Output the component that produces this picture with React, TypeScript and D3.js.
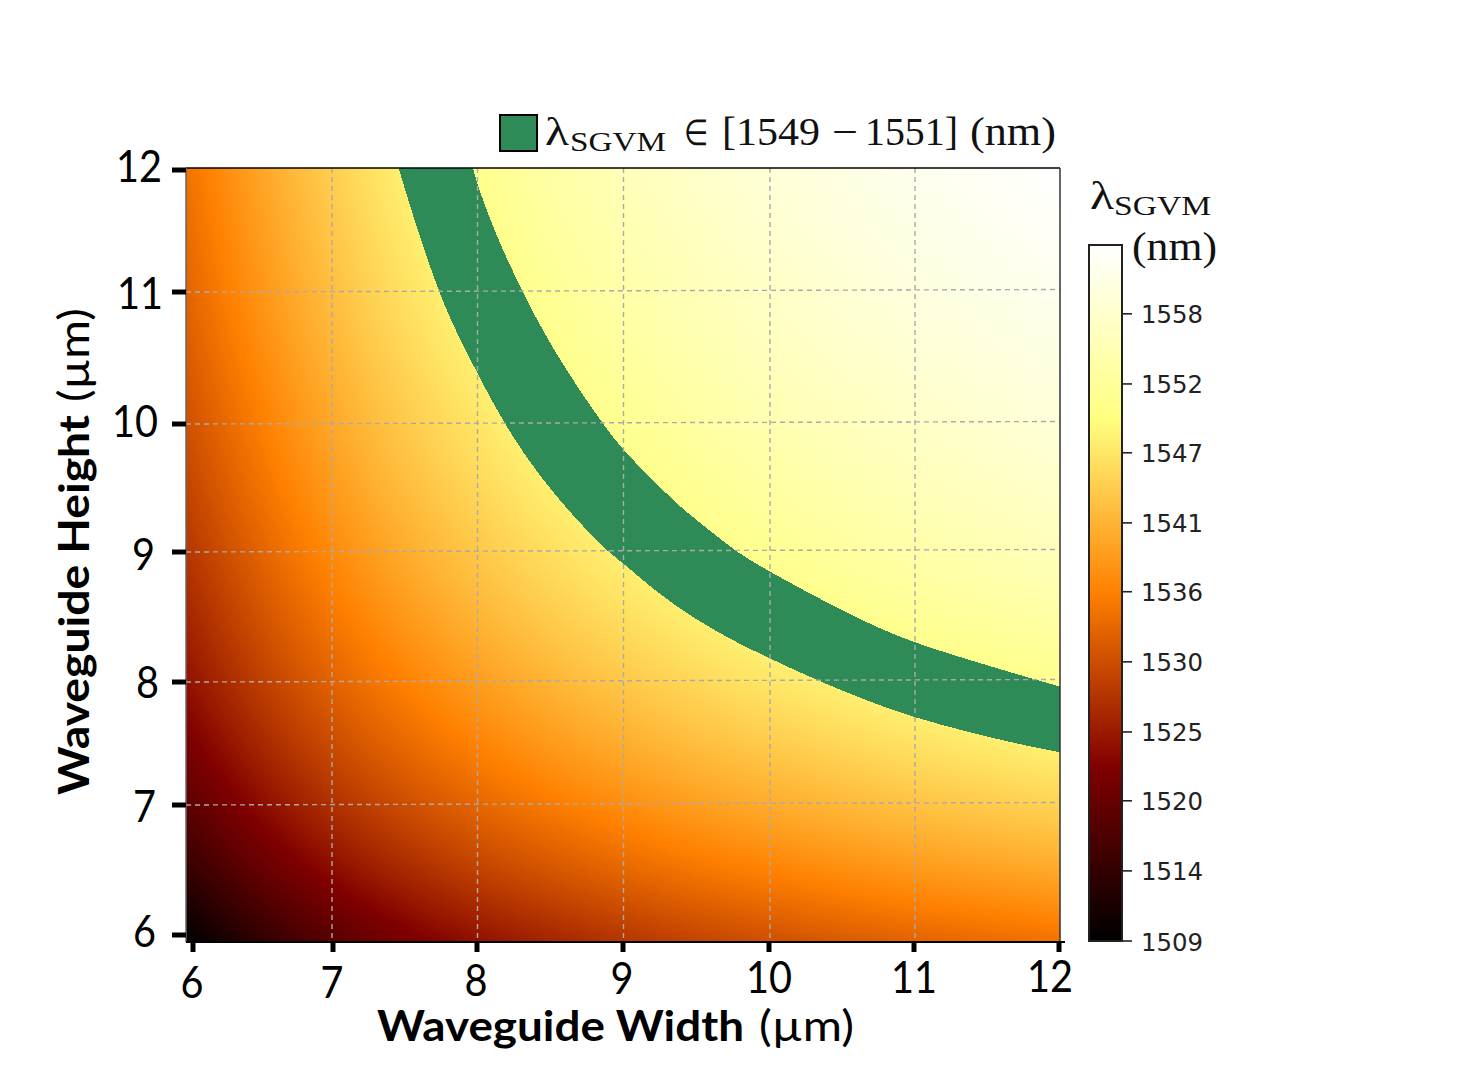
import React, { useMemo } from 'react';
import * as d3 from 'd3';

// Waveguide dimensions (um) the wavelength table is sampled on
const GRID_SIZES = [6, 6.5, 7, 7.5, 8, 8.5, 9, 9.5, 10, 10.5, 11, 11.5, 12];

// lambda_SGVM (nm) estimated from the colours, one row per height, one column per width
const WAVELENGTHS = [
  [1509.0, 1514.3, 1518.5, 1521.9, 1524.5, 1526.6, 1528.4, 1529.9, 1531.2, 1532.3, 1533.3, 1534.1, 1534.9],
  [1514.3, 1519.6, 1523.7, 1526.8, 1529.4, 1531.5, 1533.3, 1534.9, 1536.1, 1537.4, 1538.6, 1539.5, 1540.4],
  [1518.5, 1523.7, 1527.6, 1530.7, 1533.3, 1535.4, 1537.4, 1539.2, 1540.7, 1542.0, 1543.1, 1544.1, 1544.9],
  [1521.9, 1526.8, 1530.7, 1533.8, 1536.5, 1539.0, 1541.1, 1542.9, 1544.3, 1545.6, 1546.8, 1547.7, 1548.6],
  [1524.5, 1529.4, 1533.3, 1536.5, 1539.5, 1542.0, 1544.1, 1545.8, 1547.3, 1548.6, 1549.7, 1550.7, 1551.6],
  [1526.6, 1531.5, 1535.4, 1539.0, 1542.0, 1544.5, 1546.5, 1548.3, 1549.8, 1551.1, 1552.2, 1553.2, 1554.0],
  [1528.4, 1533.3, 1537.4, 1541.1, 1544.1, 1546.5, 1548.6, 1550.4, 1551.9, 1553.2, 1554.3, 1555.3, 1556.1],
  [1529.9, 1534.9, 1539.2, 1542.9, 1545.8, 1548.3, 1550.4, 1552.1, 1553.6, 1554.9, 1556.0, 1557.0, 1557.9],
  [1531.2, 1536.1, 1540.7, 1544.3, 1547.3, 1549.8, 1551.9, 1553.6, 1555.1, 1556.4, 1557.5, 1558.5, 1559.4],
  [1532.3, 1537.4, 1542.0, 1545.6, 1548.6, 1551.1, 1553.2, 1554.9, 1556.4, 1557.7, 1558.9, 1559.8, 1560.7],
  [1533.3, 1538.6, 1543.1, 1546.8, 1549.7, 1552.2, 1554.3, 1556.0, 1557.5, 1558.9, 1560.0, 1561.0, 1561.8],
  [1534.1, 1539.5, 1544.1, 1547.7, 1550.7, 1553.2, 1555.3, 1557.0, 1558.5, 1559.8, 1561.0, 1561.9, 1562.8],
  [1534.9, 1540.4, 1544.9, 1548.6, 1551.6, 1554.0, 1556.1, 1557.9, 1559.4, 1560.7, 1561.8, 1562.8, 1563.6],
];

// Edges of the 1549-1551 nm band, [width, height] in um
const BAND_UPPER: [number, number][] = [
  [7.97, 12], [8.0, 11.87], [8.13, 11.47], [8.31, 11.04], [8.48, 10.67], [8.7, 10.28], [8.86, 10.02],
  [9.0, 9.81], [9.19, 9.6], [9.39, 9.37], [9.62, 9.17], [9.78, 9.02], [10.01, 8.87], [10.17, 8.77],
  [10.47, 8.59], [10.74, 8.44], [11.0, 8.32], [11.31, 8.21], [11.66, 8.09], [12, 7.98],
];
const BAND_LOWER: [number, number][] = [
  [7.46, 12], [7.56, 11.62], [7.73, 11.05], [7.85, 10.74], [8.0, 10.41], [8.18, 10.02], [8.43, 9.6],
  [8.7, 9.25], [8.9, 9.02], [9.0, 8.94], [9.21, 8.73], [9.48, 8.51], [9.78, 8.32], [10.08, 8.16],
  [10.35, 8.02], [10.72, 7.85], [11.0, 7.74], [11.36, 7.63], [11.73, 7.53], [12, 7.47],
];

const AXIS_TICKS = [6, 7, 8, 9, 10, 11, 12];
const CBAR_TICKS = [1509, 1514.5, 1520, 1525.4, 1530.9, 1536.4, 1541.8, 1547.3, 1552.7, 1558.2];
const CBAR_LABELS = ['1509', '1514', '1520', '1525', '1530', '1536', '1541', '1547', '1552', '1558'];

const AFMHOT = ['#000000', '#800000', '#ff8000', '#ffff80', '#ffffff'];
const LAMBDA_MIN = 1509;
const LAMBDA_MAX = 1563.6;
const BAND_COLOR = '#2e8b57';

const PLOT = { left: 186, right: 1060, top: 168, bottom: 942 };
const CBAR = { left: 1089, right: 1122, top: 245, bottom: 941 };

const SANS = 'Lato, Carlito, sans-serif';
const SERIF = '"Liberation Serif", serif';

const colorOf = d3
  .scaleLinear<string>()
  .domain(d3.range(5).map(i => LAMBDA_MIN + (i * (LAMBDA_MAX - LAMBDA_MIN)) / 4))
  .range(AFMHOT)
  .clamp(true);

// Paint the wavelength table to an offscreen canvas, returned as a data url
function renderHeatmap(width: number, height: number) {
  const canvas = document.createElement('canvas');
  canvas.width = width;
  canvas.height = height;
  const ctx = canvas.getContext('2d')!;
  const img = ctx.createImageData(width, height);
  const rowSplines = WAVELENGTHS.map(row => d3.interpolateBasis(row));
  for (let px = 0; px < width; px++) {
    const column = d3.interpolateBasis(rowSplines.map(f => f(px / (width - 1))));
    for (let py = 0; py < height; py++) {
      const c = d3.rgb(colorOf(column(1 - py / (height - 1))));
      const i = (py * width + px) * 4;
      img.data[i] = c.r;
      img.data[i + 1] = c.g;
      img.data[i + 2] = c.b;
      img.data[i + 3] = 255;
    }
  }
  ctx.putImageData(img, 0, 0);
  return canvas.toDataURL();
}

const App: React.FC = () => {
  const x = d3.scaleLinear().domain([6, 12]).range([PLOT.left, PLOT.right]);
  const y = d3.scaleLinear().domain([6, 12]).range([PLOT.bottom, PLOT.top]);

  // The axes were placed by hand in the figure, so ticks do not sit exactly on the data scale
  const xTick = d3.scaleLinear().domain(AXIS_TICKS).range([193, 333, 477, 623, 769, 914, 1059]);
  const xGrid = d3.scaleLinear().domain(AXIS_TICKS).range([186, 332, 477.5, 623.5, 770, 915, 1060]);
  const xLabel = d3.scaleLinear().domain(AXIS_TICKS).range([192, 332, 476, 622, 769, 914, 1050]);
  const xLabelBase = d3.scaleLinear().domain(AXIS_TICKS).range([998, 998, 996, 994, 993, 993, 992]);
  const yTick = d3.scaleLinear().domain(AXIS_TICKS).range([935, 805, 682, 552, 424, 292, 170]);
  const yLabelBase = d3.scaleLinear().domain(AXIS_TICKS).range([947, 822, 698, 570, 437, 309, 182]);
  const yLabelRight = d3.scaleLinear().domain(AXIS_TICKS).range([156, 156, 159, 155, 158, 163, 162]);
  const cbar = d3.scaleLinear().domain([LAMBDA_MIN, LAMBDA_MAX]).range([CBAR.bottom, CBAR.top]);

  const heatmap = useMemo(() => renderHeatmap(437, 387), []);

  const edge = d3
    .line<[number, number]>()
    .x(d => x(d[0]))
    .y(d => y(d[1]))
    .curve(d3.curveBasis);
  const bandPath =
    edge(BAND_UPPER)! + 'L' + edge([...BAND_LOWER].reverse())!.slice(1) + 'Z';

  const tickText = { fontFamily: SANS, fontSize: 45, fill: '#000' };

  return (
    <svg
      width={1483}
      height={1085}
      style={{ position: 'absolute', left: 0, top: 0, background: '#fff' }}
    >
      <defs>
        <linearGradient id="cbar-grad" x1="0" y1="1" x2="0" y2="0">
          {AFMHOT.map((c, i) => (
            <stop key={c} offset={i / 4} stopColor={c} />
          ))}
        </linearGradient>
        <clipPath id="plot-clip">
          <rect x={PLOT.left} y={PLOT.top} width={PLOT.right - PLOT.left} height={PLOT.bottom - PLOT.top} />
        </clipPath>
      </defs>

      {/* Heatmap and band */}
      <image
        href={heatmap}
        x={PLOT.left}
        y={PLOT.top}
        width={PLOT.right - PLOT.left}
        height={PLOT.bottom - PLOT.top}
        preserveAspectRatio="none"
      />
      <path d={bandPath} fill={BAND_COLOR} clipPath="url(#plot-clip)" shapeRendering="crispEdges" />

      {/* Grid */}
      {AXIS_TICKS.slice(1, -1).map(t => (
        <line
          key={`gx-${t}`}
          x1={xGrid(t)}
          x2={xGrid(t)}
          y1={PLOT.top}
          y2={PLOT.bottom}
          stroke="#aaa"
          strokeWidth={1.4}
          strokeDasharray="5 4"
        />
      ))}
      {AXIS_TICKS.slice(1, -1).map(t => (
        <line
          key={`gy-${t}`}
          x1={PLOT.left}
          x2={t === 9 ? 1055 : PLOT.right}
          y1={yTick(t)}
          y2={yTick(t) - 2.5}
          stroke="#aaa"
          strokeWidth={1.4}
          strokeDasharray="5 4"
        />
      ))}

      {/* Frame */}
      <line x1={PLOT.left} x2={PLOT.right} y1={PLOT.top} y2={PLOT.top} stroke="#000" strokeWidth={1.5} />
      <line x1={PLOT.left} x2={PLOT.left} y1={PLOT.top} y2={PLOT.bottom} stroke="#666" strokeWidth={1.5} />
      <line x1={PLOT.right} x2={PLOT.right} y1={PLOT.top} y2={PLOT.bottom} stroke="#333" strokeWidth={1.5} />
      <line x1={PLOT.left} x2={1065} y1={PLOT.bottom} y2={PLOT.bottom} stroke="#000" strokeWidth={2} />

      {/* X axis */}
      {AXIS_TICKS.map(t => (
        <g key={`x-${t}`}>
          <line x1={xTick(t)} x2={xTick(t)} y1={943} y2={952} stroke="#000" strokeWidth={5} />
          <text
            x={xLabel(t)}
            y={xLabelBase(t)}
            textAnchor="middle"
            textLength={t > 9 ? 46 : 23}
            lengthAdjust="spacingAndGlyphs"
            {...tickText}
          >
            {t}
          </text>
        </g>
      ))}
      <text
        x={377}
        y={1041}
        fontFamily={SANS}
        fontWeight={700}
        fontSize={42}
        textLength={367}
        lengthAdjust="spacingAndGlyphs"
      >
        Waveguide Width
      </text>
      <text x={759} y={1041} fontFamily={SANS} fontSize={42} textLength={95} lengthAdjust="spacingAndGlyphs">
        (µm)
      </text>

      {/* Y axis */}
      {AXIS_TICKS.map(t => (
        <g key={`y-${t}`}>
          <line x1={172} x2={186} y1={yTick(t)} y2={yTick(t)} stroke="#000" strokeWidth={5} />
          <text
            x={yLabelRight(t)}
            y={yLabelBase(t)}
            textAnchor="end"
            textLength={t > 9 ? 46 : 23}
            lengthAdjust="spacingAndGlyphs"
            {...tickText}
          >
            {t}
          </text>
        </g>
      ))}
      <g transform="translate(89,795) rotate(-90)">
        <text
          x={0}
          y={0}
          fontFamily={SANS}
          fontWeight={700}
          fontSize={42}
          textLength={380}
          lengthAdjust="spacingAndGlyphs"
        >
          Waveguide Height
        </text>
        <text x={393} y={0} fontFamily={SANS} fontSize={42} textLength={94} lengthAdjust="spacingAndGlyphs">
          (µm)
        </text>
      </g>

      {/* Legend */}
      <rect x={500} y={115} width={37} height={36} fill={BAND_COLOR} stroke="#000" strokeWidth={2} />
      <g fontFamily={SERIF} fill="#111">
        <text x={545} y={145} fontSize={40} textLength={24} lengthAdjust="spacingAndGlyphs">
          λ
        </text>
        <text x={570} y={151} fontSize={27} textLength={96} lengthAdjust="spacingAndGlyphs">
          SGVM
        </text>
        <text x={684} y={145} fontSize={36} textLength={24} lengthAdjust="spacingAndGlyphs">
          ∈
        </text>
        <text x={722} y={145} fontSize={40} textLength={98} lengthAdjust="spacingAndGlyphs">
          [1549
        </text>
        <text x={832} y={145} fontSize={40} textLength={26} lengthAdjust="spacingAndGlyphs">
          −
        </text>
        <text x={865} y={145} fontSize={40} textLength={93} lengthAdjust="spacingAndGlyphs">
          1551]
        </text>
        <text x={970} y={145} fontSize={40} textLength={86} lengthAdjust="spacingAndGlyphs">
          (nm)
        </text>
      </g>

      {/* Colorbar */}
      <rect
        x={CBAR.left}
        y={CBAR.top}
        width={CBAR.right - CBAR.left}
        height={CBAR.bottom - CBAR.top}
        fill="url(#cbar-grad)"
        stroke="#222"
        strokeWidth={2}
      />
      {CBAR_TICKS.map((t, i) => (
        <g key={`c-${t}`}>
          <line x1={CBAR.right} x2={1132} y1={cbar(t)} y2={cbar(t)} stroke="#222" strokeWidth={1.6} />
          <text
            x={1141}
            y={cbar(t) + 9.5}
            fontFamily='"DejaVu Sans", sans-serif'
            fontSize={24.4}
            fill="#222"
          >
            {CBAR_LABELS[i]}
          </text>
        </g>
      ))}
      <g fontFamily={SERIF} fill="#111">
        <text x={1090} y={209} fontSize={40} textLength={24} lengthAdjust="spacingAndGlyphs">
          λ
        </text>
        <text x={1114} y={215} fontSize={27} textLength={97} lengthAdjust="spacingAndGlyphs">
          SGVM
        </text>
        <text x={1132} y={260} fontSize={40} textLength={85} lengthAdjust="spacingAndGlyphs">
          (nm)
        </text>
      </g>
    </svg>
  );
};

export default App;
